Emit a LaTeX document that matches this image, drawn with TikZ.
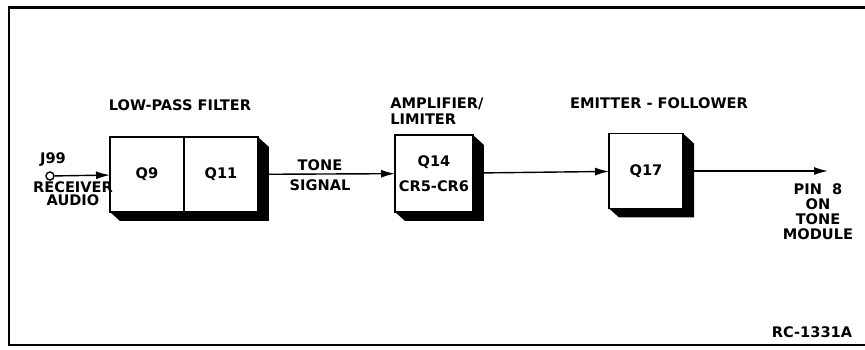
\documentclass[tikz,border=0pt]{standalone}
\usepackage{fontspec}
\setmainfont{DejaVu Sans}
\usetikzlibrary{arrows.meta, positioning, calc}

% dark shadow on the right and bottom of a block (#1 right end, #2 left end)
\newcommand{\blkshadow}[2]{%
  \fill (#1.north east) -- ++(11,10) |- ($(#2.south west)+(10,9)$) -- (#2.south west) -- (#1.south east) -- cycle;}

\begin{document}
\begin{tikzpicture}[x=0.02cm, y=-0.02cm,
    font=\fontsize{8.3}{9.5}\selectfont\bfseries,
    lbl/.style={align=center, inner sep=0pt},
    blk/.style={draw, line width=1.1pt, inner sep=0pt, outer sep=0pt,
                minimum width=1.48cm, minimum height=1.5cm, align=center},
    wire/.style={line width=0.8pt},
    >={Latex[length=2.8mm,width=1.6mm]}]
    \useasboundingbox (0,0) rectangle (865,350);
    \draw[line width=1.7pt] (865,8) -- (9,8) -- (9,345) -- (865,345);

    % blocks
    \node[blk] (q9) at (147,174.5) {Q9};
    \node[blk, right=0pt of q9] (q11) {Q11};
    \blkshadow{q11}{q9}
    \node[blk, minimum width=1.56cm, minimum height=1.54cm] (q14) at (434,173.5) {Q14\\[4.7pt]CR5-CR6};
    \blkshadow{q14}{q14}
    \node[blk] (q17) at (646,171) {Q17};
    \blkshadow{q17}{q17}

    % input jack and output pin
    \node[draw, circle, line width=0.8pt, minimum size=0.16cm, inner sep=0pt] (j99) at (50,176) {};
    \coordinate (pin8) at (828,171);

    \draw[wire, ->] (j99) -- (q9);
    \draw[wire, ->] (q11) -- (q14);
    \draw[wire, ->] (q14) -- (q17);
    \draw[wire, ->] (q17) -- (pin8);

    % labels
    \node[lbl] (j99lbl) at (53,160) {J99};
    \node[lbl, font=\fontsize{8.3}{7.2}\selectfont\bfseries] (rxlbl) at (73,194) {RECEIVER\\AUDIO};
    \node[lbl] (lpflbl) at (180,105) {LOW-PASS FILTER};
    \node[lbl, font=\fontsize{8.3}{11.4}\selectfont\bfseries] (tonelbl) at (320,175) {TONE\\SIGNAL};
    \node[lbl, align=left, anchor=west, font=\fontsize{8.3}{9.1}\selectfont\bfseries] (amplbl) at (390,111) {AMPLIFIER/\\LIMITER};
    \node[lbl] (eflbl) at (659,103) {EMITTER - FOLLOWER};
    \node[lbl, font=\fontsize{8.3}{8.5}\selectfont\bfseries] (pinlbl) at (818,212) {PIN\ \ 8\\ON\\TONE\\MODULE};
    \node[lbl] (rclbl) at (812,332) {RC-1331A};
\end{tikzpicture}
\end{document}
